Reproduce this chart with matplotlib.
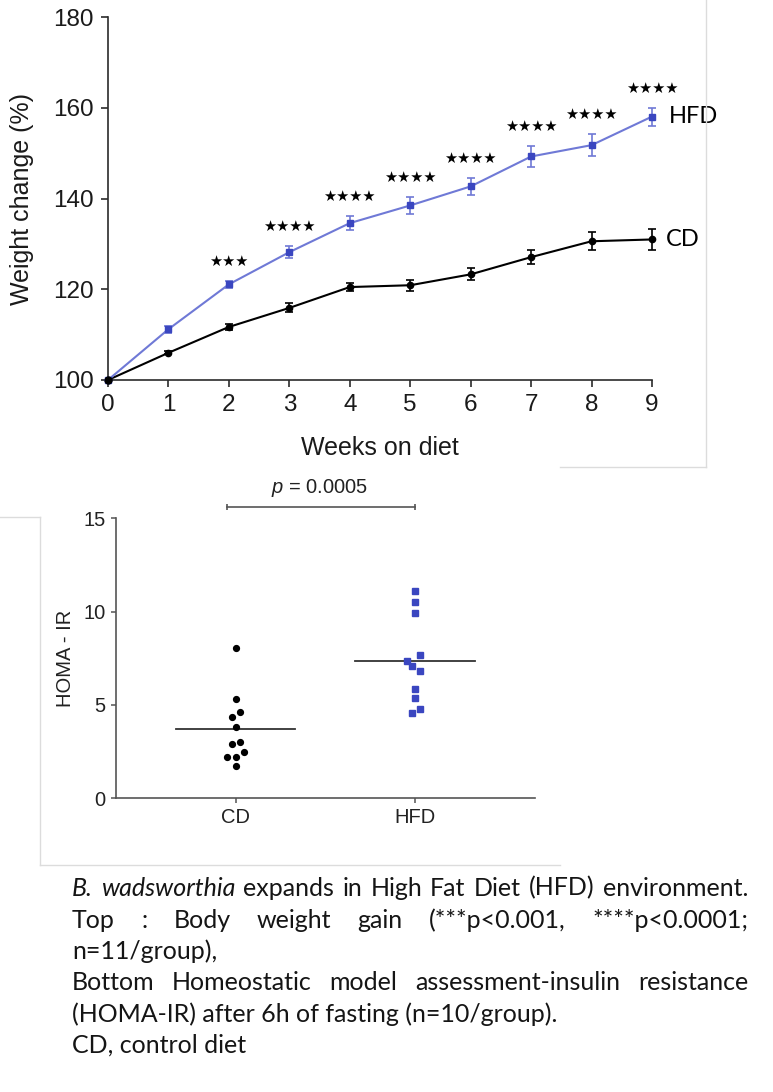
"""Weight gain curves (top) and HOMA-IR scatter (bottom) with caption."""

import matplotlib
matplotlib.use("Agg")
import matplotlib.pyplot as plt
from matplotlib.lines import Line2D
import numpy as np

plt.rcParams["font.family"] = ["Liberation Sans", "DejaVu Sans"]
plt.rcParams["mathtext.fontset"] = "custom"
plt.rcParams["mathtext.it"] = "Liberation Sans:italic"
plt.rcParams["mathtext.rm"] = "Liberation Sans"

W, H, DPI = 773, 1092, 100

# ── Top panel data: weight change (%) ─────────────────────────────────────
weeks = [0, 1, 2, 3, 4, 5, 6, 7, 8, 9]
hfd_mean = [100.0, 111.2, 121.1, 128.2, 134.6, 138.5, 142.7, 149.3, 151.8, 158.1]
hfd_sem = [0.0, 0.8, 0.8, 1.3, 1.5, 1.9, 1.8, 2.3, 2.5, 2.0]
cd_mean = [100.0, 106.0, 111.7, 115.9, 120.5, 120.9, 123.3, 127.1, 130.6, 131.0]
cd_sem = [0.0, 0.3, 0.7, 1.0, 0.8, 1.2, 1.3, 1.5, 2.0, 2.3]
signif = ["", "", "***", "****", "****", "****", "****", "****", "****", "****"]

# ── Bottom panel data: HOMA-IR ────────────────────────────────────────────
groups = ["CD", "HFD"]
homa_cd = [8.03, 5.33, 4.63, 4.34, 3.82, 3.02, 2.91, 2.47, 2.20, 2.20, 1.72]
homa_cd_jitter = [0, 0, 0.026, -0.02, 0, 0.026, -0.02, 0.05, -0.045, 0, 0]
homa_hfd = [11.12, 10.49, 9.90, 7.67, 7.36, 7.09, 6.83, 5.84, 5.35, 4.79, 4.56]
homa_hfd_jitter = [0, 0, 0, 0.026, -0.044, -0.02, 0.026, 0, 0, 0.026, -0.02]
p_value = "0.0005"

# ── Caption ───────────────────────────────────────────────────────────────
caption_lines = [
    "B. wadsworthia expands in High Fat Diet (HFD) environment.",
    "Top : Body weight gain (***p<0.001, ****p<0.0001;",
    "n=11/group),",
    "Bottom Homeostatic model assessment-insulin resistance",
    "(HOMA-IR) after 6h of fasting (n=10/group).",
    "CD, control diet",
]
caption_justify = [True, True, False, True, False, False]
caption_italic = ["B.", "wadsworthia"]

BLUE_LINE = "#6f79d6"
BLUE_MARK = "#3a46c0"
AX_TOP = "#2b2b2b"
AX_BOT = "#555555"


def px_box(x0, y0, x1, y1):
    """Pixel box (top-left origin) → figure-fraction rect."""
    return [x0 / W, 1 - y1 / H, (x1 - x0) / W, (y1 - y0) / H]


fig = plt.figure(figsize=(W / DPI, H / DPI), dpi=DPI)

# ── Top: weight change ────────────────────────────────────────────────────
ax1 = fig.add_axes(px_box(108, 17.3, 652, 380))
ax1.errorbar(weeks, cd_mean, yerr=cd_sem, color="black", lw=1.5, marker="o",
             ms=4.5, capsize=2.8, elinewidth=1.2, capthick=1.2, clip_on=False, zorder=3)
ax1.errorbar(weeks, hfd_mean, yerr=hfd_sem, color=BLUE_LINE, lw=1.5, marker="s",
             ms=5, mfc=BLUE_MARK, mec=BLUE_MARK, capsize=2.8, elinewidth=1.2,
             capthick=1.2, clip_on=False, zorder=4)
ax1.plot([0], [100], "o", color="black", ms=5, clip_on=False, zorder=5)

for w, m, e, s in zip(weeks, hfd_mean, hfd_sem, signif):
    if s:
        ax1.annotate("★" * len(s), (w, m + e), xytext=(0, 14), textcoords="offset points",
                     ha="center", va="center", fontsize=10.5, family="DejaVu Sans")

ax1.annotate("HFD", (weeks[-1], hfd_mean[-1]), xytext=(12, 0), textcoords="offset points",
             ha="left", va="center", fontsize=17, family="Lato")
ax1.annotate("CD", (weeks[-1], cd_mean[-1]), xytext=(10, 0), textcoords="offset points",
             ha="left", va="center", fontsize=17, family="Lato")

ax1.set_xlim(0, 9)
ax1.set_ylim(100, 180)
ax1.set_xticks(weeks)
ax1.set_yticks([100, 120, 140, 160, 180])
for side in ("top", "right"):
    ax1.spines[side].set_visible(False)
for side in ("left", "bottom"):
    ax1.spines[side].set_color(AX_TOP)
    ax1.spines[side].set_linewidth(1.2)
ax1.tick_params(direction="out", length=5, width=1.2, color=AX_TOP,
                labelsize=17.5, pad=5, labelcolor="#1a1a1a")
ax1.set_xlabel("Weeks on diet", fontsize=18, color="#1a1a1a")
ax1.set_ylabel("Weight change (%)", fontsize=18, color="#1a1a1a")
ax1.xaxis.set_label_coords(0.5, -0.155)
ax1.yaxis.set_label_coords(-0.136, 0.5)

# ── Bottom: HOMA-IR ───────────────────────────────────────────────────────
ax2 = fig.add_axes(px_box(115.7, 518.3, 535, 798))
cd_x = 0 + np.array(homa_cd_jitter)
hfd_x = 1 + np.array(homa_hfd_jitter)
ax2.plot(cd_x, homa_cd, "o", color="black", ms=4.2, ls="none", zorder=3)
ax2.plot(hfd_x, homa_hfd, "s", color=BLUE_MARK, ms=4, ls="none", zorder=3)
for i, vals in enumerate([homa_cd, homa_hfd]):
    m = np.mean(vals)
    ax2.plot([i - 0.333, i + 0.333], [m, m], color="#333333", lw=1.3, zorder=2)

ax2.plot([-0.048, 1], [15.59, 15.59], color=AX_BOT, lw=1.2, clip_on=False)
ax2.plot([-0.048, 1], [15.59, 15.59], "|", color=AX_BOT, ms=4, mew=1.2, clip_on=False)
ax2.text(0.47, 16.62, r"$p$ = " + p_value, ha="center", va="center",
         fontsize=14.5, color="#222222", clip_on=False)

ax2.set_xlim(-2 / 3, 5 / 3)
ax2.set_ylim(0, 15)
ax2.set_xticks([0, 1])
ax2.set_xticklabels(groups)
ax2.set_yticks([0, 5, 10, 15])
for side in ("top", "right"):
    ax2.spines[side].set_visible(False)
for side in ("left", "bottom"):
    ax2.spines[side].set_color(AX_BOT)
    ax2.spines[side].set_linewidth(1.2)
ax2.tick_params(direction="out", length=3.5, width=1.1, color=AX_BOT,
                labelsize=14.5, pad=4, labelcolor="#222222")
ax2.set_ylabel("HOMA - IR", fontsize=14.5, color="#222222")
ax2.yaxis.set_label_coords(-0.097, 0.5)

# ── Faint screenshot panel borders ────────────────────────────────────────
edge = "#dcdcdc"
for (xa, ya), (xb, yb) in [((706, 0), (706, 467)), ((560, 467), (706, 467)),
                           ((0, 517), (40, 517)), ((40, 517), (40, 865)),
                           ((40, 865), (560, 865))]:
    fig.add_artist(Line2D([xa / W, xb / W], [1 - ya / H, 1 - yb / H],
                          transform=fig.transFigure, color=edge, lw=1))

# ── Caption (justified lines done word by word) ───────────────────────────
CAP_LEFT, CAP_RIGHT = 72, 748
cap_y = [888, 920, 951, 983, 1014, 1045]
cap_kw = dict(fontsize=18, family="Lato", color="#151515", va="center", ha="left")

fig.canvas.draw()
renderer = fig.canvas.get_renderer()
for i, (line, y, just) in enumerate(zip(caption_lines, cap_y, caption_justify)):
    yf = 1 - y / H
    if not just:
        fig.text(CAP_LEFT / W, yf, line, **cap_kw)
        continue
    words = line.split()
    arts = []
    for w in words:
        style = "italic" if (i == 0 and w in caption_italic) else "normal"
        arts.append(fig.text(0, yf, w, style=style, **cap_kw))
    widths = [a.get_window_extent(renderer).width for a in arts]
    gap = (CAP_RIGHT - CAP_LEFT - sum(widths)) / (len(words) - 1)
    x = CAP_LEFT
    for a, wd in zip(arts, widths):
        a.set_x(x / W)
        x += wd + gap

fig.savefig("out.png", dpi=DPI)
